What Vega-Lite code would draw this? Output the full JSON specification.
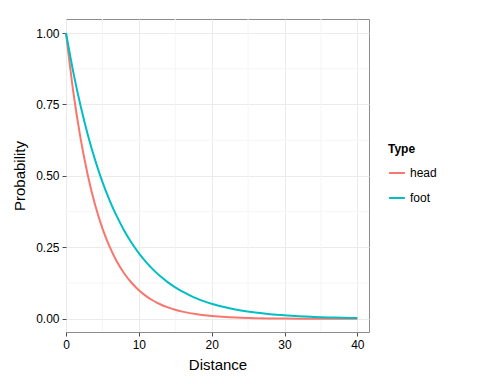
{
  "$schema": "https://vega.github.io/schema/vega-lite/v6.json",
  "width": 303,
  "height": 313,
  "autosize": {"type": "none"},
  "padding": {"left": 66, "top": 19, "right": 111, "bottom": 52},
  "background": "white",
  "config": {
    "font": "Liberation Sans",
    "view": {"stroke": "#8c8c8c", "strokeWidth": 1}
  },
  "datasets": {
    "curves": [
      {"Distance": 0, "Probability": 1, "Type": "head"},
      {"Distance": 1, "Probability": 0.7945, "Type": "head"},
      {"Distance": 2, "Probability": 0.6313, "Type": "head"},
      {"Distance": 3, "Probability": 0.5016, "Type": "head"},
      {"Distance": 4, "Probability": 0.3985, "Type": "head"},
      {"Distance": 5, "Probability": 0.3166, "Type": "head"},
      {"Distance": 6, "Probability": 0.2516, "Type": "head"},
      {"Distance": 7, "Probability": 0.1999, "Type": "head"},
      {"Distance": 8, "Probability": 0.1588, "Type": "head"},
      {"Distance": 9, "Probability": 0.1262, "Type": "head"},
      {"Distance": 10, "Probability": 0.1003, "Type": "head"},
      {"Distance": 11, "Probability": 0.0797, "Type": "head"},
      {"Distance": 12, "Probability": 0.0633, "Type": "head"},
      {"Distance": 13, "Probability": 0.0503, "Type": "head"},
      {"Distance": 14, "Probability": 0.04, "Type": "head"},
      {"Distance": 15, "Probability": 0.0317, "Type": "head"},
      {"Distance": 16, "Probability": 0.0252, "Type": "head"},
      {"Distance": 17, "Probability": 0.02, "Type": "head"},
      {"Distance": 18, "Probability": 0.0159, "Type": "head"},
      {"Distance": 19, "Probability": 0.0127, "Type": "head"},
      {"Distance": 20, "Probability": 0.0101, "Type": "head"},
      {"Distance": 22, "Probability": 0.0063, "Type": "head"},
      {"Distance": 24, "Probability": 0.004, "Type": "head"},
      {"Distance": 26, "Probability": 0.0025, "Type": "head"},
      {"Distance": 28, "Probability": 0.0016, "Type": "head"},
      {"Distance": 30, "Probability": 0.001, "Type": "head"},
      {"Distance": 32, "Probability": 0.0006, "Type": "head"},
      {"Distance": 34, "Probability": 0.0004, "Type": "head"},
      {"Distance": 36, "Probability": 0.0003, "Type": "head"},
      {"Distance": 38, "Probability": 0.0002, "Type": "head"},
      {"Distance": 40, "Probability": 0.0001, "Type": "head"},
      {"Distance": 0, "Probability": 1, "Type": "foot"},
      {"Distance": 1, "Probability": 0.8633, "Type": "foot"},
      {"Distance": 2, "Probability": 0.7453, "Type": "foot"},
      {"Distance": 3, "Probability": 0.6434, "Type": "foot"},
      {"Distance": 4, "Probability": 0.5554, "Type": "foot"},
      {"Distance": 5, "Probability": 0.4795, "Type": "foot"},
      {"Distance": 6, "Probability": 0.414, "Type": "foot"},
      {"Distance": 7, "Probability": 0.3574, "Type": "foot"},
      {"Distance": 8, "Probability": 0.3085, "Type": "foot"},
      {"Distance": 9, "Probability": 0.2664, "Type": "foot"},
      {"Distance": 10, "Probability": 0.2299, "Type": "foot"},
      {"Distance": 11, "Probability": 0.1985, "Type": "foot"},
      {"Distance": 12, "Probability": 0.1714, "Type": "foot"},
      {"Distance": 13, "Probability": 0.1479, "Type": "foot"},
      {"Distance": 14, "Probability": 0.1277, "Type": "foot"},
      {"Distance": 15, "Probability": 0.1103, "Type": "foot"},
      {"Distance": 16, "Probability": 0.0952, "Type": "foot"},
      {"Distance": 17, "Probability": 0.0822, "Type": "foot"},
      {"Distance": 18, "Probability": 0.0709, "Type": "foot"},
      {"Distance": 19, "Probability": 0.0612, "Type": "foot"},
      {"Distance": 20, "Probability": 0.0529, "Type": "foot"},
      {"Distance": 22, "Probability": 0.0394, "Type": "foot"},
      {"Distance": 24, "Probability": 0.0294, "Type": "foot"},
      {"Distance": 26, "Probability": 0.0219, "Type": "foot"},
      {"Distance": 28, "Probability": 0.0163, "Type": "foot"},
      {"Distance": 30, "Probability": 0.0122, "Type": "foot"},
      {"Distance": 32, "Probability": 0.0091, "Type": "foot"},
      {"Distance": 34, "Probability": 0.0068, "Type": "foot"},
      {"Distance": 36, "Probability": 0.005, "Type": "foot"},
      {"Distance": 38, "Probability": 0.0037, "Type": "foot"},
      {"Distance": 40, "Probability": 0.0028, "Type": "foot"}
    ],
    "minorX": [{"v": 5}, {"v": 15}, {"v": 25}, {"v": 35}],
    "minorY": [{"v": 0.125}, {"v": 0.375}, {"v": 0.625}, {"v": 0.875}]
  },
  "layer": [
    {
      "data": {"name": "minorX"},
      "mark": {"type": "rule", "color": "#f5f5f5", "strokeWidth": 1},
      "encoding": {
        "x": {"field": "v", "type": "quantitative", "scale": {"domain": [0, 41.6], "nice": false, "zero": false}}
      }
    },
    {
      "data": {"name": "minorY"},
      "mark": {"type": "rule", "color": "#f5f5f5", "strokeWidth": 1},
      "encoding": {
        "y": {"field": "v", "type": "quantitative", "scale": {"domain": [-0.046, 1.049], "nice": false, "zero": false}}
      }
    },
    {
      "data": {"name": "curves"},
      "mark": {"type": "line", "strokeWidth": 2, "interpolate": "monotone"},
      "encoding": {
        "x": {
          "field": "Distance", "type": "quantitative",
          "scale": {"domain": [0, 41.6], "nice": false, "zero": false},
          "axis": {
            "values": [0, 10, 20, 30, 40], "title": "Distance",
            "grid": true, "gridColor": "#ebebeb", "domain": false, "labelFlush": false,
            "tickColor": "#4d4d4d", "tickSize": 4, "labelFontSize": 12, "labelColor": "#000000",
            "labelPadding": 3, "titleFontSize": 15, "titleFontWeight": "normal", "titleColor": "#000000",
            "titlePadding": 7
          }
        },
        "y": {
          "field": "Probability", "type": "quantitative",
          "scale": {"domain": [-0.046, 1.049], "nice": false, "zero": false},
          "axis": {
            "values": [0, 0.25, 0.5, 0.75, 1], "format": ".2f", "title": "Probability",
            "grid": true, "gridColor": "#ebebeb", "domain": false, "labelFlush": false,
            "tickColor": "#4d4d4d", "tickSize": 4, "labelFontSize": 12, "labelColor": "#000000",
            "labelPadding": 3, "titleFontSize": 15, "titleFontWeight": "normal", "titleColor": "#000000",
            "titlePadding": 8
          }
        },
        "color": {
          "field": "Type", "type": "nominal",
          "scale": {"domain": ["head", "foot"], "range": ["#F8766D", "#00BFC4"]},
          "legend": {
            "orient": "none", "legendX": 322, "legendY": 125,
            "title": "Type", "titleFontSize": 12, "titleFontWeight": "bold", "titleColor": "#000000",
            "titlePadding": 8,
            "labelFontSize": 12, "labelColor": "#000000",
            "symbolType": "stroke", "symbolStrokeWidth": 2, "symbolSize": 250,
            "rowPadding": 10
          }
        }
      }
    }
  ]
}
